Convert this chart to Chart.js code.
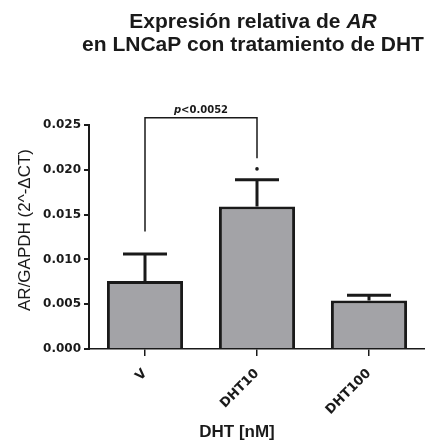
<!DOCTYPE html>
<html>
<head>
<meta charset="utf-8">
<script src="https://cdn.jsdelivr.net/npm/chart.js@4"></script>
<style>
  body { margin: 0; background: #fff; }
  #chart { display: block; }
</style>
</head>
<body>
<canvas id="chart" width="425" height="443"></canvas>
<script>
// values
let categories = ['V', 'DHT10', 'DHT100'];
let means = [0.0076, 0.0159, 0.0054];
let sems = [0.0030, 0.0030, 0.0006];
let yMax = 0.025;
let yStep = 0.005;

// significance bracket between V and DHT10
let bracketPair = [0, 1];
let bracketTop = 0.0258;
let bracketEnds = [0.0131, 0.0213];
let starAt = 0.0201;
let pPrefix = 'p';
let pRest = '<0.0052';

let font = '"Liberation Sans", Arial, sans-serif';
let wide = '"DejaVu Sans", Verdana, sans-serif';
let ink = '#1a1a1a';

let canvas = document.getElementById('chart');

let errorBars = {
    id: 'errorBars',
    afterDatasetsDraw(chart) {
        let ctx = chart.ctx;
        let y = chart.scales.y;
        let meta = chart.getDatasetMeta(0);
        ctx.save();
        ctx.strokeStyle = ink;
        ctx.lineWidth = 3;
        meta.data.forEach((bar, i) => {
            let top = y.getPixelForValue(means[i] + sems[i]);
            ctx.beginPath();
            ctx.moveTo(bar.x, bar.y);
            ctx.lineTo(bar.x, top);
            ctx.moveTo(bar.x - 22, top);
            ctx.lineTo(bar.x + 22, top);
            ctx.stroke();
        });
        ctx.restore();
    }
};

let annotations = {
    id: 'annotations',
    afterDraw(chart) {
        let ctx = chart.ctx;
        let x = chart.scales.x;
        let y = chart.scales.y;
        ctx.save();

        // bracket
        let x0 = x.getPixelForValue(bracketPair[0]);
        let x1 = x.getPixelForValue(bracketPair[1]);
        let yt = y.getPixelForValue(bracketTop);
        ctx.strokeStyle = ink;
        ctx.lineWidth = 1.5;
        ctx.beginPath();
        ctx.moveTo(x0, y.getPixelForValue(bracketEnds[0]));
        ctx.lineTo(x0, yt);
        ctx.lineTo(x1, yt);
        ctx.lineTo(x1, y.getPixelForValue(bracketEnds[1]));
        ctx.stroke();

        ctx.fillStyle = ink;
        ctx.beginPath();
        ctx.arc(x1, y.getPixelForValue(starAt), 1.8, 0, Math.PI * 2);
        ctx.fill();

        // p value, "p" italic
        ctx.textBaseline = 'alphabetic';
        ctx.textAlign = 'left';
        ctx.font = 'italic bold 10px ' + wide;
        let w1 = ctx.measureText(pPrefix).width;
        ctx.font = 'bold 10px ' + wide;
        let w2 = ctx.measureText(pRest).width;
        let sx = (x0 + x1) / 2 - (w1 + w2) / 2;
        ctx.font = 'italic bold 10px ' + wide;
        ctx.fillText(pPrefix, sx, yt - 5);
        ctx.font = 'bold 10px ' + wide;
        ctx.fillText(pRest, sx + w1, yt - 5);

        // title, "AR" italic
        let cx = 253;
        ctx.textBaseline = 'middle';
        ctx.font = 'bold 21px ' + font;
        let a = 'Expresión relativa de ';
        let wa = ctx.measureText(a).width;
        ctx.font = 'italic bold 21px ' + font;
        let wb = ctx.measureText('AR').width;
        let tx = cx - (wa + wb) / 2;
        ctx.font = 'bold 21px ' + font;
        ctx.fillText(a, tx, 22);
        ctx.font = 'italic bold 21px ' + font;
        ctx.fillText('AR', tx + wa, 22);
        ctx.font = 'bold 21px ' + font;
        ctx.textAlign = 'center';
        ctx.fillText('en LNCaP con tratamiento de DHT', cx, 45);

        // axis titles
        ctx.font = 'bold 17px ' + font;
        ctx.fillText('DHT [nM]', 237, 432);

        ctx.save();
        ctx.translate(25, 230);
        ctx.rotate(-Math.PI / 2);
        ctx.font = '17px ' + font;
        ctx.fillText('AR/GAPDH (2^-ΔCT)', 0, 0);
        ctx.restore();

        ctx.restore();
    }
};

new Chart(canvas, {
    type: 'bar',
    data: {
        labels: categories,
        datasets: [{
            data: means,
            backgroundColor: '#a3a3a7',
            borderColor: ink,
            borderWidth: 3,
            barPercentage: 0.68,
            categoryPercentage: 1
        }]
    },
    options: {
        responsive: false,
        animation: false,
        layout: { padding: { top: 125, left: 0, right: 0, bottom: 0 } },
        plugins: {
            legend: { display: false },
            tooltip: { enabled: false }
        },
        scales: {
            x: {
                offset: true,
                afterFit: s => { s.height = 94; },
                border: { color: ink, width: 1.5 },
                grid: { drawOnChartArea: false, offset: false, tickLength: 7, color: ink, lineWidth: 1.5 },
                ticks: {
                    minRotation: 45,
                    maxRotation: 45,
                    padding: 10,
                    color: ink,
                    font: { family: wide, size: 13, weight: 'bold' }
                }
            },
            y: {
                min: 0,
                max: yMax,
                afterFit: s => { s.width = 89; },
                border: { color: ink, width: 2 },
                grid: { drawOnChartArea: false, tickLength: 5, color: ink, lineWidth: 2 },
                ticks: {
                    stepSize: yStep,
                    color: ink,
                    padding: 3,
                    font: { family: wide, size: 12, weight: 'bold' },
                    callback: v => v.toFixed(3)
                }
            }
        }
    },
    plugins: [errorBars, annotations]
});
</script>
</body>
</html>
